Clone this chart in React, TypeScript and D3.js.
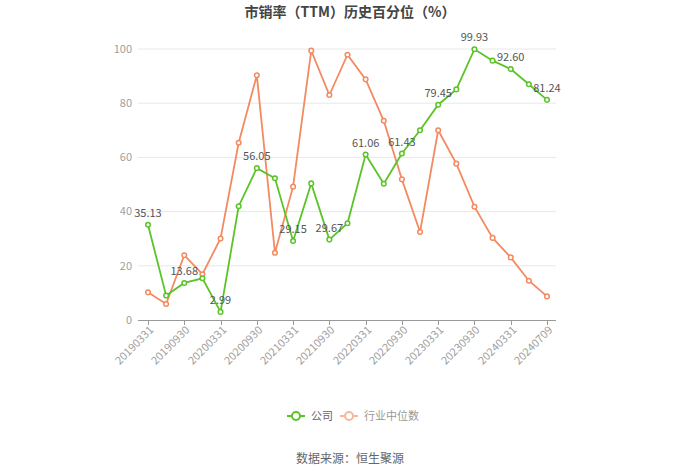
import React from "react";
import * as d3 from "d3";

const categories = [
  "20190331", "20190630", "20190930", "20191231",
  "20200331", "20200630", "20200930", "20201231",
  "20210331", "20210630", "20210930", "20211231",
  "20220331", "20220630", "20220930", "20221231",
  "20230331", "20230630", "20230930", "20231231",
  "20240331", "20240630", "20240709",
];

const companyValues = [
  35.13, 9.0, 13.68, 15.4, 2.99, 42.0, 56.05, 52.3, 29.15, 50.4, 29.67, 35.7,
  61.06, 50.3, 61.43, 70.0, 79.45, 85.1, 99.93, 95.7, 92.6, 87.0, 81.24,
];

const industryValues = [
  10.2, 5.9, 23.9, 16.9, 30.1, 65.4, 90.3, 24.8, 49.2, 99.4, 83.0, 97.9,
  88.8, 73.5, 51.9, 32.5, 70.0, 57.7, 41.8, 30.3, 23.1, 14.5, 8.7,
];

const yTicks = [0, 20, 40, 60, 80, 100];

const labeledIdx = [0, 2, 4, 6, 8, 10, 12, 14, 16, 18, 20, 22];
const xLabelIdx = [0, 2, 4, 6, 8, 10, 12, 14, 16, 18, 20, 22];

const GREEN = "#5ac427";
const ORANGE = "#f38a61";
const FONT = "'Noto Sans CJK SC', 'Noto Sans', sans-serif";

export default function App() {
  const W = 700;
  const H = 474;
  const x = d3.scalePoint<string>().domain(categories).range([148, 547]);
  const y = d3.scaleLinear().domain([0, 100]).range([320, 49]);

  const line = d3
    .line<number>()
    .x((_, i) => x(categories[i]) as number)
    .y((d) => y(d));

  const series = [
    { name: "行业中位数", values: industryValues, color: ORANGE },
    { name: "公司", values: companyValues, color: GREEN },
  ];

  return (
    <svg
      width={W}
      height={H}
      style={{ position: "absolute", left: 0, top: 0, background: "#fff" }}
      fontFamily={FONT}
    >
      <text
        x={350}
        y={17}
        textAnchor="middle"
        fontSize={14}
        fontWeight="bold"
        fill="#444"
      >
        市销率（TTM）历史百分位（%）
      </text>

      {yTicks.map((t) => (
        <g key={t}>
          {t !== 0 && (
            <line x1={138} x2={556} y1={y(t)} y2={y(t)} stroke="#e8e8e8" strokeWidth={1} />
          )}
          <text
            x={132}
            y={y(t)}
            dy="0.35em"
            textAnchor="end"
            fontSize={11}
            fill="#a0a0a0"
          >
            {t}
          </text>
        </g>
      ))}

      <line x1={138} x2={556} y1={320.5} y2={320.5} stroke="#999" strokeWidth={1} />
      {xLabelIdx.map((i) => {
        const px = Math.round(x(categories[i]) as number) + 0.5;
        return (
          <g key={i}>
            <line x1={px} x2={px} y1={320} y2={325} stroke="#999" strokeWidth={1} />
            <text
              transform={`translate(${px + 3},${328}) rotate(-45)`}
              textAnchor="end"
              dy="0.35em"
              fontSize={11}
              fill="#a0a0a0"
            >
              {categories[i]}
            </text>
          </g>
        );
      })}

      {series.map((s) => (
        <g key={s.name}>
          <path d={line(s.values) || ""} fill="none" stroke={s.color} strokeWidth={1.8} />
          {s.values.map((v, i) => (
            <circle
              key={i}
              cx={x(categories[i]) as number}
              cy={y(v)}
              r={2.3}
              fill="#fff"
              stroke={s.color}
              strokeWidth={1.5}
            />
          ))}
        </g>
      ))}

      {labeledIdx.map((i) => (
        <text
          key={i}
          x={x(categories[i]) as number}
          y={y(companyValues[i]) - 8}
          textAnchor="middle"
          fontSize={11}
          fill="#555"
        >
          {companyValues[i].toFixed(2)}
        </text>
      ))}

      <g>
        <line x1={287} x2={305} y1={416} y2={416} stroke={GREEN} strokeWidth={2} />
        <circle cx={296} cy={416} r={4} fill="#fff" stroke={GREEN} strokeWidth={2} />
        <text x={311} y={416} dy="0.35em" fontSize={11} fill="#666">
          公司
        </text>
        <line x1={340} x2={358} y1={416} y2={416} stroke="#f7b79d" strokeWidth={2} />
        <circle cx={349} cy={416} r={4} fill="#fff" stroke="#f7b79d" strokeWidth={2} />
        <text x={364} y={416} dy="0.35em" fontSize={11} fill="#999">
          行业中位数
        </text>
      </g>

      <text x={350} y={459} dy="0.35em" textAnchor="middle" fontSize={12} fill="#666">
        数据来源：恒生聚源
      </text>
    </svg>
  );
}
